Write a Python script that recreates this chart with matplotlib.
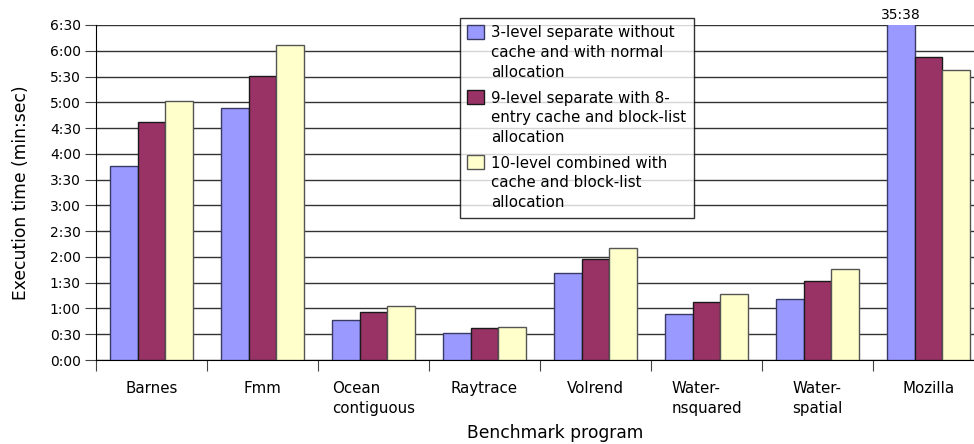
import matplotlib.pyplot as plt
import numpy as np
from matplotlib.container import BarContainer
from matplotlib.legend_handler import HandlerPatch
from matplotlib.patches import Rectangle
from matplotlib.ticker import FuncFormatter, MultipleLocator

# Execution times in seconds
benchmarks = ["Barnes", "Fmm", "Ocean\ncontiguous", "Raytrace", "Volrend",
              "Water-\nnsquared", "Water-\nspatial", "Mozilla"]
separate_3level = [226, 293, 47, 31, 101, 54, 71, 2138]
separate_9level = [277, 331, 56, 37, 118, 68, 92, 353]
combined_10level = [302, 367, 63, 39, 130, 77, 106, 338]

series_labels = [
    "3-level separate without\ncache and with normal\nallocation",
    "9-level separate with 8-\nentry cache and block-list\nallocation",
    "10-level combined with\ncache and block-list\nallocation",
]
colors = ["#9999FF", "#993366", "#FFFFCC"]
edges = ["#3a3a66", "#1a1a1a", "#555555"]

y_max = 390


def min_sec(v, pos=None):
    v = int(round(v))
    return f"{v // 60}:{v % 60:02d}"


def top_patch(legend, orig_handle, xdescent, ydescent, width, height, fontsize):
    # put the colour box next to the first line of a multi-line label
    shift = 1.45 * fontsize
    return Rectangle((-xdescent, -ydescent + shift), width, height)


def copy_bar_style(legend_handle, orig_handle):
    legend_handle.update_from(orig_handle.patches[0])


fig = plt.figure(figsize=(9.74, 4.44), dpi=100)
ax = fig.add_axes([96 / 974, 84 / 444, 888 / 974, 335 / 444])

x = np.arange(len(benchmarks))
width = 0.25
for i, (vals, label) in enumerate(zip(
        [separate_3level, separate_9level, combined_10level], series_labels)):
    ax.bar(x + (i - 1) * width, vals, width=width, color=colors[i],
           edgecolor=edges[i], linewidth=1.0, label=label, zorder=3)

# value of the clipped Mozilla bar
clip_idx = int(np.argmax(separate_3level))
ax.text(clip_idx - width, y_max + 3, min_sec(separate_3level[clip_idx]),
        ha="center", va="bottom", fontsize=10, clip_on=False)

ax.set_ylim(0, y_max)
ax.set_xlim(-0.5, len(benchmarks) - 0.5)
ax.yaxis.set_major_locator(MultipleLocator(30))
ax.yaxis.set_major_formatter(FuncFormatter(min_sec))
ax.grid(axis="y", color="#333333", linewidth=1.0, zorder=0)

ax.set_xticks(np.arange(len(benchmarks) + 1) - 0.5)
ax.set_xticklabels([])
ax.set_xticks(x, minor=True)
ax.set_xticklabels(benchmarks, minor=True, fontsize=10.8,
                   multialignment="left", linespacing=1.4)
ax.tick_params(axis="x", which="major", length=8, color="#444444")
ax.tick_params(axis="x", which="minor", length=0, pad=15)
ax.tick_params(axis="y", length=8, color="#444444", labelsize=10, pad=3)

for side in ["top", "right"]:
    ax.spines[side].set_visible(False)
ax.spines["left"].set_color("black")
ax.spines["bottom"].set_color("black")

ax.set_ylabel("Execution time (min:sec)", fontsize=12.3, labelpad=14)
ax.set_xlabel("Benchmark program", fontsize=12.3, va="top")
ax.xaxis.set_label_coords(0.517, -0.192)

leg = ax.legend(loc="upper left", bbox_to_anchor=(0.4099, 1.021), fontsize=10.8,
                frameon=True, fancybox=False, edgecolor="black",
                handlelength=1.1, handleheight=1.1, handletextpad=0.5,
                labelspacing=0.7, borderpad=0.5, borderaxespad=0,
                handler_map={BarContainer: HandlerPatch(
                    patch_func=top_patch, update_func=copy_bar_style)})
leg.get_frame().set_linewidth(1.0)
for t in leg.get_texts():
    t.set_linespacing(1.4)

fig.savefig("out.png", dpi=100)
